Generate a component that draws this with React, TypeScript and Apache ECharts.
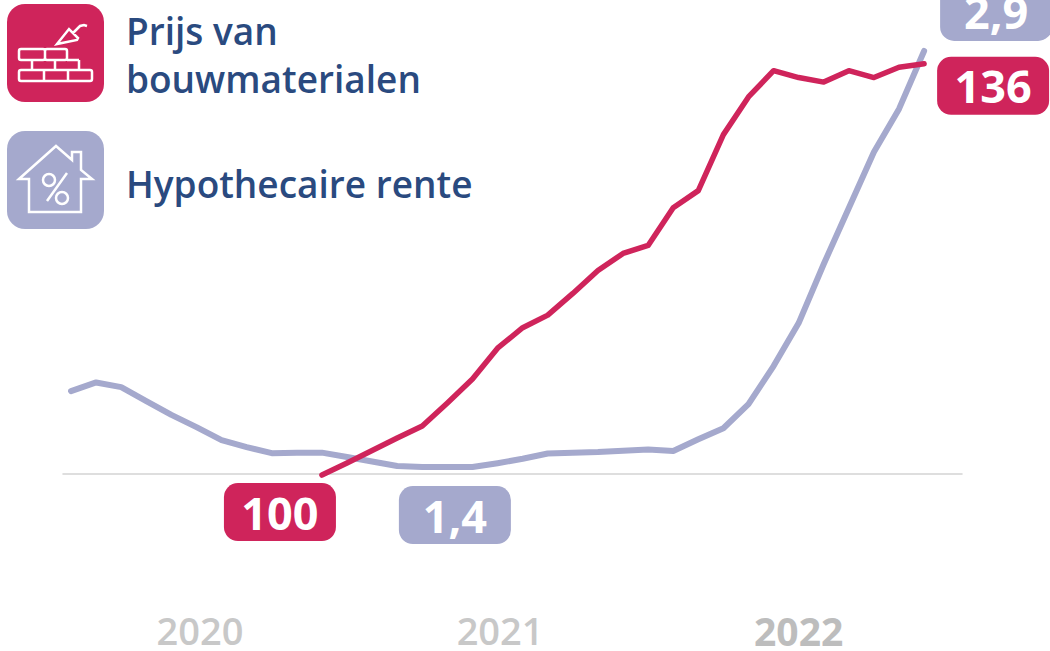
import React, { useEffect, useRef } from "react";
import * as echarts from "echarts";

const months = Array.from({ length: 35 }, (_, i) => i);
const renteValues = [1.674, 1.705, 1.688, 1.638, 1.588, 1.544, 1.497, 1.472, 1.45, 1.452, 1.452, 1.436, 1.42, 1.404, 1.4, 1.4, 1.4, 1.414, 1.43, 1.449, 1.452, 1.454, 1.459, 1.463, 1.458, 1.5, 1.54, 1.627, 1.764, 1.919, 2.132, 2.334, 2.536, 2.691, 2.9];
const prijsValues = [100, 101.05, 102.15, 103.24, 104.29, 106.3, 108.4, 111.1, 112.9, 114.0, 115.9, 117.9, 119.4, 120.1, 123.4, 124.9, 129.8, 133.1, 135.4, 134.8, 134.4, 135.4, 134.8, 135.7, 136];
const prijsStart = 10;
const yearTicks = [5.14, 17.1, 29];
const yearLabels = ["2020", "2021", "2022"];

const RED = "#cf245b";
const BLUE = "#a5a9cd";
const NAVY = "#2a4a7f";
const FONT = "'Open Sans', 'Noto Sans', sans-serif";

const bricks = "M21 49h22a2 2 0 0 1 2 2v7a2 2 0 0 1-2 2h-22a2 2 0 0 1-2-2v-7a2 2 0 0 1 2-2z M47 49h18a2 2 0 0 1 2 2v7a2 2 0 0 1-2 2h-18a2 2 0 0 1-2-2v-7a2 2 0 0 1 2-2z M32 60v10 M55 60v10 M79 60v10 M67 60h12 M19 72a2 2 0 0 1 2-2h69a2 2 0 0 1 2 2v7a2 2 0 0 1-2 2h-69a2 2 0 0 1-2-2z M44 70v11 M68 70v11 M57 44l12-15 9 9-1 2-20 4z M73 33l7-7 4-1 3 1";
const house = "M19 179L56 146L72 160V152H81V170L92 179H81V212H29V179H19z M47 201L67 173 M43 180a6 6 0 1 0 12 0a6 6 0 1 0-12 0z M56 198a6 6 0 1 0 12 0a6 6 0 1 0-12 0z";

echarts.graphic.registerShape("bricksIcon", echarts.graphic.extendPath(bricks, {}));
echarts.graphic.registerShape("houseIcon", echarts.graphic.extendPath(house, {}));

const valueLabel = (text: string, color: string, offset: number[]) => ({
  show: true,
  position: "inside",
  offset,
  formatter: text,
  width: 112,
  height: 58,
  lineHeight: 58,
  align: "center",
  verticalAlign: "middle",
  backgroundColor: color,
  borderRadius: 14,
  color: "#fff",
  fontFamily: FONT,
  fontSize: 45,
  fontWeight: 700,
});

const hidden = { symbol: "none" };
const renteData = renteValues.map((v, i) => {
  const x = months[i];
  if (i === 15) return { value: [x, v], symbol: "circle", symbolSize: 1, label: valueLabel("1,4", BLUE, [7.5, 48]) };
  if (i === 34) return { value: [x, v], symbol: "circle", symbolSize: 1, label: valueLabel("2,9", BLUE, [72, -39]) };
  return { value: [x, v], ...hidden };
});
const prijsData = prijsValues.map((v, i) => {
  const x = months[i + prijsStart];
  if (i === 0) return { value: [x, v], symbol: "circle", symbolSize: 1, label: valueLabel("100", RED, [-42, 37]) };
  if (i === prijsValues.length - 1) return { value: [x, v], symbol: "circle", symbolSize: 1, label: valueLabel("136", RED, [69, 22]) };
  return { value: [x, v], ...hidden };
});

const legendText = (text: string, x: number, y: number) => ({
  type: "text",
  x,
  y,
  style: { text, fill: NAVY, font: `600 37px ${FONT}`, textVerticalAlign: "middle" },
});

export default function App() {
  const ref = useRef<HTMLDivElement>(null);
  useEffect(() => {
    document.body.style.margin = "0";
    const chart = echarts.init(ref.current!, undefined, { renderer: "svg" });
    chart.setOption({
      animation: false,
      backgroundColor: "#fff",
      grid: { left: 63, right: 88, top: 1, height: 473 },
      xAxis: {
        type: "value",
        min: -0.32,
        max: 35.51,
        splitLine: { show: false },
        axisLine: { show: true, onZero: false, lineStyle: { color: "#d3d3d3", width: 1.5 } },
        axisTick: { show: false },
        axisLabel: {
          customValues: yearTicks,
          margin: 137,
          hideOverlap: false,
          showMinLabel: true,
          showMaxLabel: true,
          formatter: (v: number) => {
            const label = yearLabels[yearTicks.indexOf(v)];
            return label === "2022" ? `{b|${label}}` : `{n|${label}}`;
          },
          rich: {
            n: { color: "#c8c8c8", fontFamily: FONT, fontSize: 38, lineHeight: 38, fontWeight: 600 },
            b: { color: "#bdbdbd", fontFamily: FONT, fontSize: 39, lineHeight: 38, fontWeight: 700 },
          },
        },
      },
      yAxis: [
        { type: "value", min: 100.09, max: 141.5, show: false },
        { type: "value", min: 1.375, max: 3.08, show: false },
      ],
      series: [
        {
          name: "Hypothecaire rente",
          type: "line",
          yAxisIndex: 1,
          data: renteData,
          clip: false,
          lineStyle: { color: BLUE, width: 6, cap: "round", join: "round" },
          itemStyle: { color: BLUE },
          z: 2,
        },
        {
          name: "Prijs van bouwmaterialen",
          type: "line",
          yAxisIndex: 0,
          data: prijsData,
          clip: false,
          lineStyle: { color: RED, width: 5.5, cap: "round", join: "round" },
          itemStyle: { color: RED },
          z: 3,
        },
      ],
      graphic: [
        { type: "rect", shape: { x: 7, y: 4, width: 97, height: 98, r: 18 }, style: { fill: RED } },
        { type: "bricksIcon", x: 0, y: 0, style: { fill: "none", stroke: "#fff", lineWidth: 2.5 } },
        { type: "rect", shape: { x: 7, y: 131, width: 97, height: 98, r: 18 }, style: { fill: BLUE } },
        { type: "houseIcon", x: 0, y: 0, style: { fill: "none", stroke: "#fff", lineWidth: 2.5 } },
        legendText("Prijs van", 126, 30),
        legendText("bouwmaterialen", 126, 78),
        legendText("Hypothecaire rente", 126, 183),
      ],
    });
    return () => chart.dispose();
  }, []);
  return <div ref={ref} style={{ width: 1050, height: 651 }} />;
}
